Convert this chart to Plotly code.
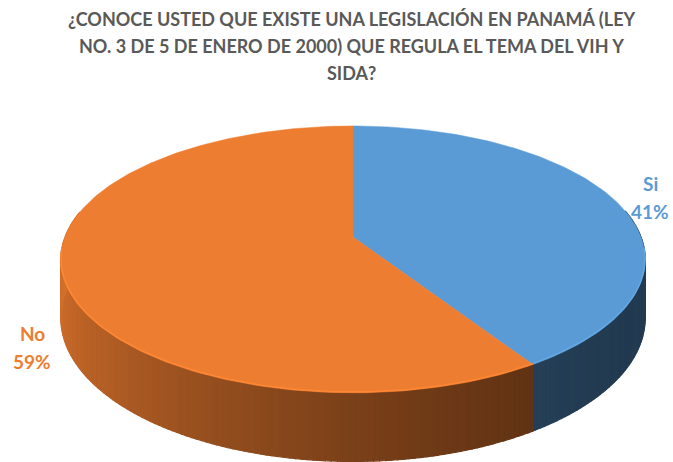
import math
import plotly.graph_objects as go

# ---- data ----
labels = ["Si", "No"]
values = [41, 59]
colors = ["#5B9BD5", "#ED7D31"]
title_lines = [
    "¿CONOCE USTED QUE EXISTE UNA LEGISLACIÓN EN PANAMÁ (LEY",
    "NO. 3 DE 5 DE ENERO DE 2000) QUE REGULA EL TEMA DEL VIH Y",
    "SIDA?",
]

# ---- 3D pie geometry (pixel space) ----
W, Hpx = 673, 462
cx, cy = 353, 237
A, B, s = 288, 129.7, 0.168
depth = 57


def proj(phi_deg, d=0.0):
    p = math.radians(phi_deg)
    X, Z = math.sin(p), math.cos(p)
    w = 1 + s * Z
    return cx + A * X / w, cy - B * Z / w + d * depth / w


def hex_rgb(h):
    h = h.lstrip("#")
    return tuple(int(h[i:i + 2], 16) for i in (0, 2, 4))


def shade(col, f):
    r, g, b = hex_rgb(col)
    return "rgb(%d,%d,%d)" % (min(255, r * f), min(255, g * f), min(255, b * f))


total = sum(values)
bounds = []
acc = 0
for v in values:
    a0 = acc / total * 360
    acc += v
    bounds.append((a0, acc / total * 360))

fig = go.Figure()

# sides (front half only)
step = 1.0
for (a0, a1), col in zip(bounds, colors):
    phi = a0
    while phi < a1 - 1e-9:
        p2 = min(phi + step, a1)
        mid = (phi + p2) / 2
        if math.cos(math.radians(mid)) < 0.2:
            f = 0.657 + 0.277 * math.cos(math.radians(mid - 300))
            xs, ys = [], []
            for q in (phi, p2):
                x, y = proj(q)
                xs.append(x); ys.append(y)
            for q in (p2, phi):
                x, y = proj(q, 1)
                xs.append(x); ys.append(y)
            xs.append(xs[0]); ys.append(ys[0])
            c = shade(col, f)
            fig.add_trace(go.Scatter(x=xs, y=ys, mode="lines", fill="toself",
                                     fillcolor=c, line=dict(color=c, width=1.2),
                                     hoverinfo="skip", showlegend=False))
        phi = p2

# top faces
for (a0, a1), col in zip(bounds, colors):
    xs, ys = [cx], [cy]
    n = max(2, int((a1 - a0) / 1.0))
    for i in range(n + 1):
        x, y = proj(a0 + (a1 - a0) * i / n)
        xs.append(x); ys.append(y)
    xs.append(cx); ys.append(cy)
    fig.add_trace(go.Scatter(x=xs, y=ys, mode="lines", fill="toself",
                             fillcolor=col, line=dict(color=col, width=0.5),
                             hoverinfo="skip", showlegend=False))

# subtle rim highlight on front edge
for (a0, a1), col in zip(bounds, colors):
    xs, ys = [], []
    lo, hi = max(a0, 95), min(a1, 265)
    if hi > lo:
        n = int(hi - lo)
        for i in range(n + 1):
            x, y = proj(lo + (hi - lo) * i / n)
            xs.append(x); ys.append(y - 1)
        fig.add_trace(go.Scatter(x=xs, y=ys, mode="lines",
                                 line=dict(color=shade(col, 1.08), width=1.5),
                                 hoverinfo="skip", showlegend=False))

# labels
label_pos = {"Si": (650, 183), "No": (32, 333)}
for lab, v, col in zip(labels, values, colors):
    x, y = label_pos[lab]
    fig.add_annotation(x=x, y=y, text="<b>%s</b>" % lab, showarrow=False,
                       font=dict(family="Lato", size=19, color=col),
                       xanchor="center", yanchor="middle")
    fig.add_annotation(x=x, y=y + 28, text="<b>%d%%</b>" % v, showarrow=False,
                       font=dict(family="Lato", size=19, color=col),
                       xanchor="center", yanchor="middle")

# title
for i, line in enumerate(title_lines):
    fig.add_annotation(x=351, y=19 + 27 * i, text="<b>%s</b>" % line, showarrow=False,
                       font=dict(family="Lato", size=18, color="#595959"),
                       xanchor="center", yanchor="middle")

fig.update_layout(
    width=W, height=Hpx,
    margin=dict(l=0, r=0, t=0, b=0),
    paper_bgcolor="white", plot_bgcolor="white",
    xaxis=dict(range=[0, W], visible=False, fixedrange=True),
    yaxis=dict(range=[Hpx, 0], visible=False, fixedrange=True),
    showlegend=False,
)

fig.write_html("out.html")
